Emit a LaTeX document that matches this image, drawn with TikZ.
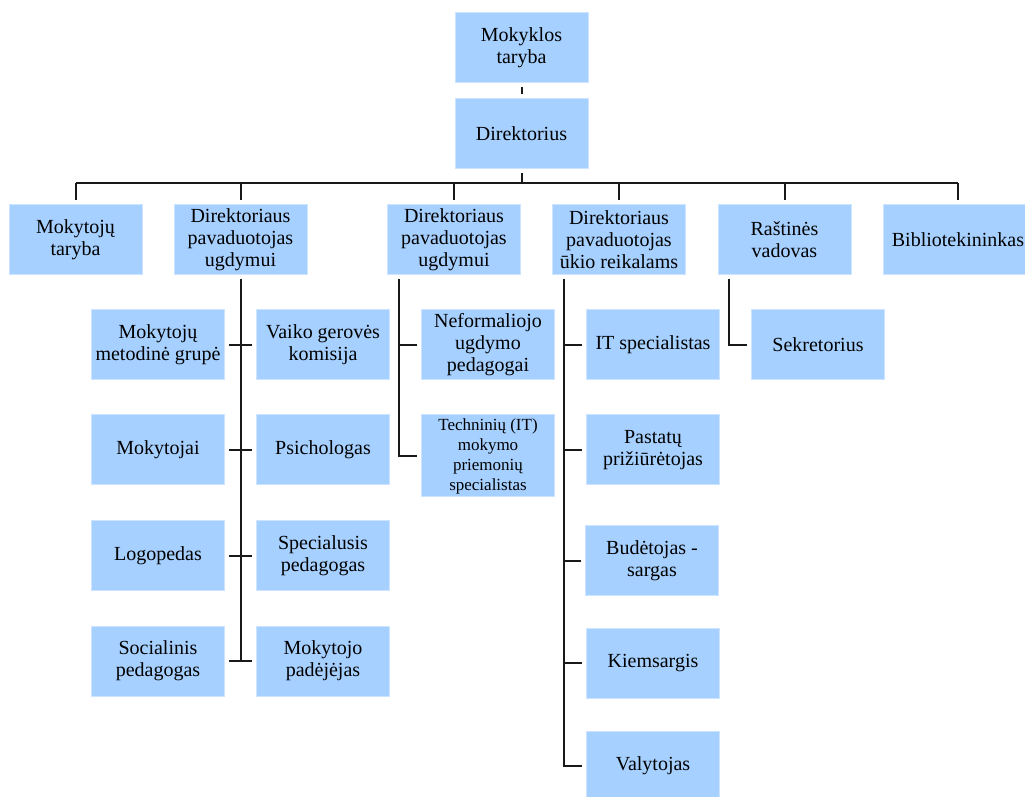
\documentclass[tikz,border=0pt]{standalone}
\usepackage{fontspec}
\setmainfont{LiberationSerif}[Extension=.ttf, UprightFont=*-Regular,
	BoldFont=*-Bold, ItalicFont=*-Italic, BoldItalicFont=*-BoldItalic]
\usepackage{tikz}
\usetikzlibrary{positioning}

\definecolor{boxblue}{RGB}{166,208,255}
\definecolor{boxedge}{RGB}{204,228,255}

\begin{document}
\begin{tikzpicture}[x=0.5pt,y=-0.5pt,
	unit/.style={rectangle, fill=boxblue, draw=boxedge, line width=0.5pt,
		minimum width=66.5pt, minimum height=35pt, inner sep=1pt,
		align=center, font=\fontsize{10}{11}\selectfont},
	link/.style={draw=black!90, line width=1pt},
	gap/.style={shorten <=2pt, shorten >=2pt}]

	\useasboundingbox (0,0) rectangle (1025,797);

	% top
	\node[unit] (taryba) at (521.5,47.5) {Mokyklos\\taryba};
	\node[unit] (dir) at (521.5,133.5) {Direktorius};

	% first level
	\node[unit] (mt) at (75.5,239.5) {Mokytojų\\taryba};
	\node[unit] (dpu1) at (240.5,239.5) {Direktoriaus\\pavaduotojas\\ugdymui};
	\node[unit] (dpu2) at (454,239.5) {Direktoriaus\\pavaduotojas\\ugdymui};
	\node[unit] (duk) at (619,239.5) {Direktoriaus\\pavaduotojas\\ūkio reikalams};
	\node[unit] (rv) at (784.5,239.5) {Raštinės\\vadovas};
	\node[unit, minimum width=75pt] (bib) at (958,239.5) {Bibliotekininkas};

	% under dpu1
	\node[unit] (mmg) at (158,345) {Mokytojų\\metodinė grupė};
	\node[unit] (mok) at (158,450) {Mokytojai};
	\node[unit] (logo) at (158,555.5) {Logopedas};
	\node[unit] (socp) at (158,661) {Socialinis\\pedagogas};
	\node[unit] (vgk) at (323,345) {Vaiko gerovės\\komisija};
	\node[unit] (psi) at (323,450) {Psichologas};
	\node[unit] (spp) at (323,555.5) {Specialusis\\pedagogas};
	\node[unit] (mpad) at (323,661) {Mokytojo\\padėjėjas};

	% under dpu2
	\node[unit] (nf) at (488,345) {Neformaliojo\\ugdymo\\pedagogai};
	\node[unit, minimum height=41pt, font=\fontsize{8.5}{10}\selectfont] (tech) at (488,456)
		{Techninių (IT)\\mokymo\\priemonių\\specialistas};

	% under duk
	\node[unit] (its) at (653,345) {IT specialistas};
	\node[unit] (pp) at (653,450) {Pastatų\\prižiūrėtojas};
	\node[unit] (bs) at (652,560.5) {Budėtojas -\\sargas};
	\node[unit] (kiem) at (653,663) {Kiemsargis};
	\node[unit] (valy) at (653,766) {Valytojas};

	% under rv
	\node[unit] (sek) at (818,345) {Sekretorius};

	% connectors
	\draw[link, gap] (taryba) -- (dir);
	\coordinate (bus) at ([yshift=-7pt]dir.south);
	\draw[link, shorten <=2pt] (dir) -- (bus);
	\draw[link] (mt.north |- bus) -- (bib.north |- bus);
	\foreach \n in {mt,dpu1,dpu2,duk,rv,bib}
		\draw[link, shorten >=2pt] (\n.north |- bus) -- (\n.north);

	\coordinate (d1) at ([yshift=-2pt]dpu1.south);
	\draw[link] (d1) -- (d1 |- socp.east);
	\draw[link, gap] (mmg) -- (vgk);
	\draw[link, gap] (mok) -- (psi);
	\draw[link, gap] (logo) -- (spp);
	\draw[link, gap] (socp) -- (mpad);

	\coordinate (d2) at ([xshift=6pt,yshift=-2pt]dpu2.south west);
	\draw[link, shorten >=2pt] (d2) |- (tech.west);
	\draw[link, shorten >=2pt] (d2 |- nf.west) -- (nf.west);

	\coordinate (d3) at ([xshift=6pt,yshift=-2pt]duk.south west);
	\draw[link, shorten >=2pt] (d3) |- (valy.west);
	\foreach \n in {its,pp,bs,kiem}
		\draw[link, shorten >=2pt] (d3 |- \n.west) -- (\n.west);

	\coordinate (d4) at ([xshift=5.5pt,yshift=-2pt]rv.south west);
	\draw[link, shorten >=2pt] (d4) |- (sek.west);

\end{tikzpicture}
\end{document}
